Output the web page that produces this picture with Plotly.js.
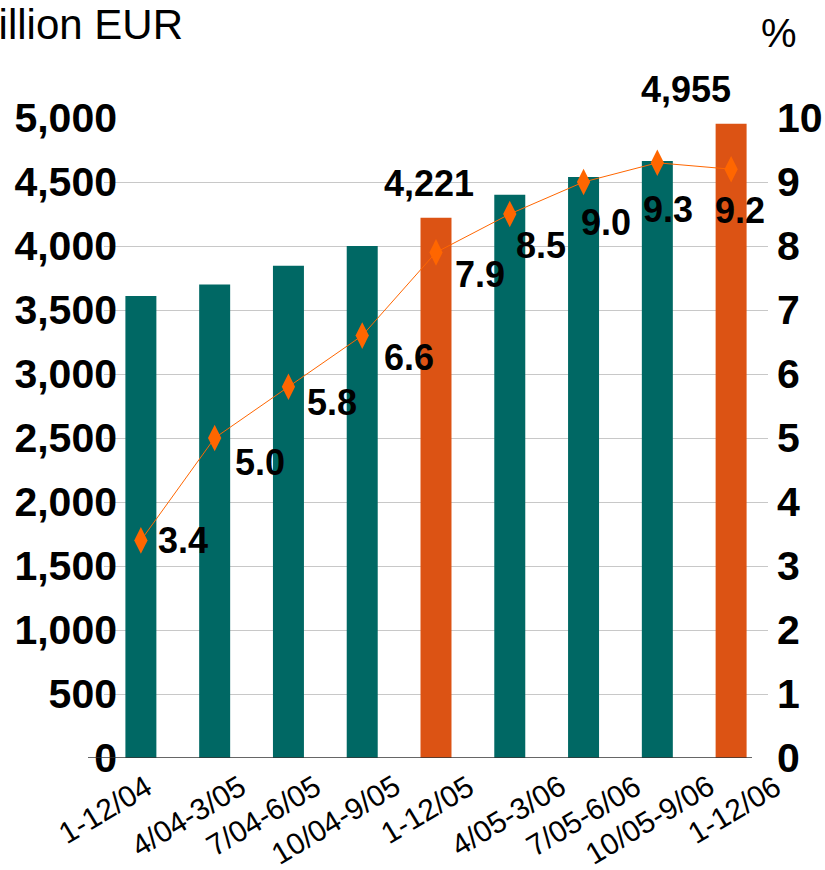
<!DOCTYPE html>
<html>
<head>
<meta charset="utf-8">
<script src="https://cdn.plot.ly/plotly-3.0.1.min.js"></script>
<style>
  html, body { margin: 0; padding: 0; background: #ffffff; }
  #chart { width: 825px; height: 870px; }
</style>
</head>
<body>
<div id="chart"></div>
<script>
// ---- data ----
const categories = ["1-12/04", "4/04-3/05", "7/04-6/05", "10/04-9/05", "1-12/05",
                    "4/05-3/06", "7/05-6/06", "10/05-9/06", "1-12/06"];
const amountMillionEur = [3610, 3700, 3845, 4000, 4221, 4400, 4540, 4665, 4955];
const sharePercent = [3.4, 5.0, 5.8, 6.6, 7.9, 8.5, 9.0, 9.3, 9.2];
const labelledBars = ["1-12/05", "1-12/06"];
const leftTickValues = [0, 500, 1000, 1500, 2000, 2500, 3000, 3500, 4000, 4500, 5000];
const rightTickValues = [0, 1, 2, 3, 4, 5, 6, 7, 8, 9, 10];

// ---- styles ----
const TEAL = "#006864";
const ORANGE_BAR = "#DC5314";
const ORANGE_LINE = "#FF6600";
const FONT = "Liberation Sans, Arial, sans-serif";

const barColors = categories.map(c => c.startsWith("1-12") && c !== "1-12/04" ? ORANGE_BAR : TEAL);

// label offsets (pixels) for the percentage labels, relative to the marker
const pctLabelShift = [[42, 0], [45, -24], [44, -16], [47, -22], [44, -22], [31, -31], [22, -40], [11, -47], [9, -41]];
// horizontal offsets (pixels) of the rotated category labels
const catLabelShift = [19, 40, 41, 46, 46, 64, 66, 65, 58];

const bars = {
  type: "bar",
  x: categories,
  y: amountMillionEur,
  marker: { color: barColors, line: { width: 0 } },
  width: 0.42,
  hoverinfo: "x+y",
  showlegend: false
};

const line = {
  type: "scatter",
  mode: "lines+markers",
  x: categories,
  y: sharePercent,
  yaxis: "y2",
  line: { color: ORANGE_LINE, width: 1 },
  marker: { symbol: "diamond-tall", size: 19, color: ORANGE_LINE },
  showlegend: false
};

const annotations = [];

// x category labels (rotated)
categories.forEach((c, i) => {
  annotations.push({
    x: c, y: 0, xref: "x", yref: "y",
    text: c, showarrow: false,
    textangle: -31,
    xanchor: "right", yanchor: "top",
    xshift: catLabelShift[i], yshift: -8,
    font: { family: FONT, size: 30, color: "#000" }
  });
});

// bar value labels
categories.forEach((c, i) => {
  if (labelledBars.includes(c)) {
    annotations.push({
      x: c, y: amountMillionEur[i], xref: "x", yref: "y",
      text: amountMillionEur[i].toLocaleString("en-US"),
      showarrow: false,
      xanchor: "center", yanchor: "middle",
      xshift: c === "1-12/06" ? -45 : -7, yshift: 34,
      font: { family: FONT, size: 36, color: "#000", weight: "bold" }
    });
  }
});

// percent labels
categories.forEach((c, i) => {
  annotations.push({
    x: c, y: sharePercent[i], xref: "x", yref: "y2",
    text: sharePercent[i].toFixed(1),
    showarrow: false,
    xanchor: "center", yanchor: "middle",
    xshift: pctLabelShift[i][0], yshift: pctLabelShift[i][1],
    font: { family: FONT, size: 36, color: "#000", weight: "bold" }
  });
});

// unit label of the right axis
annotations.push({
  xref: "paper", yref: "paper", x: (779 - 104) / 664, y: 1 + (118 - 33) / 640,
  text: "%", showarrow: false, xanchor: "center", yanchor: "middle",
  font: { family: FONT, size: 40, color: "#000" }
});

const layout = {
  width: 825,
  height: 870,
  margin: { l: 104, r: 57, t: 118, b: 112, pad: 0 },
  paper_bgcolor: "#ffffff",
  plot_bgcolor: "#ffffff",
  title: {
    text: "Million EUR",
    xref: "container", yref: "container",
    x: 183 / 825, xanchor: "right",
    y: 1 - 24 / 870, yanchor: "middle",
    font: { family: FONT, size: 42, color: "#000" }
  },
  xaxis: {
    type: "category",
    range: [-0.5, 8.5],
    showticklabels: false,
    showgrid: false,
    zeroline: false,
    showline: false,
    ticks: ""
  },
  yaxis: {
    range: [0, 5000],
    tickvals: leftTickValues,
    tickformat: ",d",
    showgrid: true,
    gridcolor: "#c8c8c8",
    gridwidth: 1,
    zeroline: false,
    showline: false,
    ticks: "",
    ticklabelstandoff: -14,
    tickfont: { family: FONT, size: 41, color: "#000", weight: "bold" }
  },
  yaxis2: {
    range: [0, 10],
    overlaying: "y",
    side: "right",
    tickvals: rightTickValues,
    showgrid: false,
    zeroline: false,
    showline: false,
    ticks: "",
    ticklabelstandoff: 8,
    tickfont: { family: FONT, size: 41, color: "#000", weight: "bold" }
  },
  shapes: [{
    type: "line", xref: "paper", yref: "y",
    x0: -16 / 664, x1: 1 - 16 / 664, y0: 0, y1: 0,
    line: { color: "#333333", width: 1.5 },
    layer: "above"
  }],
  annotations: annotations,
  bargap: 0.58
};

Plotly.newPlot("chart", [bars, line], layout, { displayModeBar: false, staticPlot: true });
</script>
</body>
</html>
